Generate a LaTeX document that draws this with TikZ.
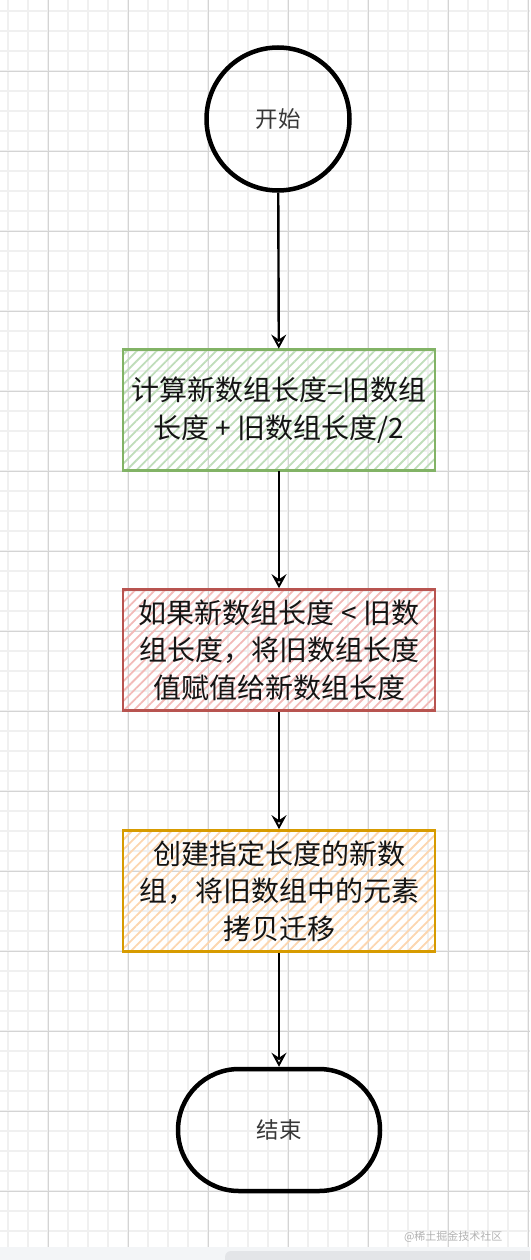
\documentclass[tikz,border=0pt]{standalone}
\usepackage{fontspec}
\newfontfamily\cjk{Noto Sans CJK SC}
\usetikzlibrary{arrows.meta,patterns.meta}
\definecolor{gridminor}{HTML}{F0F0F0}
\definecolor{gridmajor}{HTML}{D4D4D4}
\definecolor{greenline}{HTML}{82B366}
\definecolor{greenhatch}{HTML}{BFDDBA}
\definecolor{redline}{HTML}{B85450}
\definecolor{redhatch}{HTML}{F2BAB8}
\definecolor{yellowline}{HTML}{D79B00}
\definecolor{yellowhatch}{HTML}{FCD6B0}
\definecolor{ink}{HTML}{141414}
\definecolor{stripgray}{HTML}{F3F5F7}
\definecolor{bargray}{HTML}{E3E5E8}
\begin{document}
\begin{tikzpicture}[x=1pt,y=-1pt,
  minor/.style={gridminor,line width=1.2pt},
  major/.style={gridmajor,line width=0.9pt},
  terminal/.style={draw=black,line width=4.5pt,text=ink!85,
    font=\cjk\fontsize{22.5}{26}\selectfont},
  process/.style={line width=2.6pt,minimum width=312pt,minimum height=121pt,
    inner sep=0pt,align=center,text=ink,font=\cjk\fontsize{28}{37.5}\selectfont},
  hatch/.style={pattern={Lines[angle=45,distance=7pt,line width=1.8pt]},pattern color=#1},
  flow/.style={line width=2.4pt,-{Stealth[open,length=14pt,width=15pt,inset=5pt,line width=2pt]}}]
\useasboundingbox (0,0) rectangle (530,1260);
\clip (0,0) rectangle (530,1260);
%%%% grid
\foreach \x in {8,28,...,528}
\draw[minor] (\x,0) -- (\x,1247);
\foreach \y in {11,31,...,1231}
\draw[minor] (0,\y) -- (530,\y);
\foreach \x in {48,128,...,528}
\draw[major] (\x,0) -- (\x,1247);
\foreach \y in {71,151,...,1231}
\draw[major] (0,\y) -- (530,\y);
\fill[stripgray] (0,1247) rectangle (530,1260);
\fill[bargray,rounded corners=6pt] (225,1251) rectangle (545,1275);
%%%% flow
\node[terminal,circle,minimum size=143pt] (start) at (278,119) {开始};
\node[process,draw=greenline,hatch=greenhatch] (calc) at (279,410)
  {计算新数组长度=旧数组\\长度 + 旧数组长度/2};
\node[process,draw=redline,hatch=redhatch] (check) at (279,650)
  {如果新数组长度 < 旧数\\组长度，将旧数组长度\\值赋值给新数组长度};
\node[process,draw=yellowline,hatch=yellowhatch] (copy) at (279,891)
  {创建指定长度的新数\\组，将旧数组中的元素\\拷贝迁移};
\node[terminal,rounded corners=61pt,minimum width=202pt,minimum height=122pt] (stop) at (279,1130) {结束};
\draw[flow] (start) -- (calc);
\draw[flow] (calc) -- (check);
\draw[flow] (check) -- (copy);
\draw[flow] (copy) -- (stop);
%%%%
\node[anchor=east,text=gray!60,font=\cjk\fontsize{11}{13}\selectfont] (mark) at (506,1237) {@稀土掘金技术社区};
\end{tikzpicture}
\end{document}
